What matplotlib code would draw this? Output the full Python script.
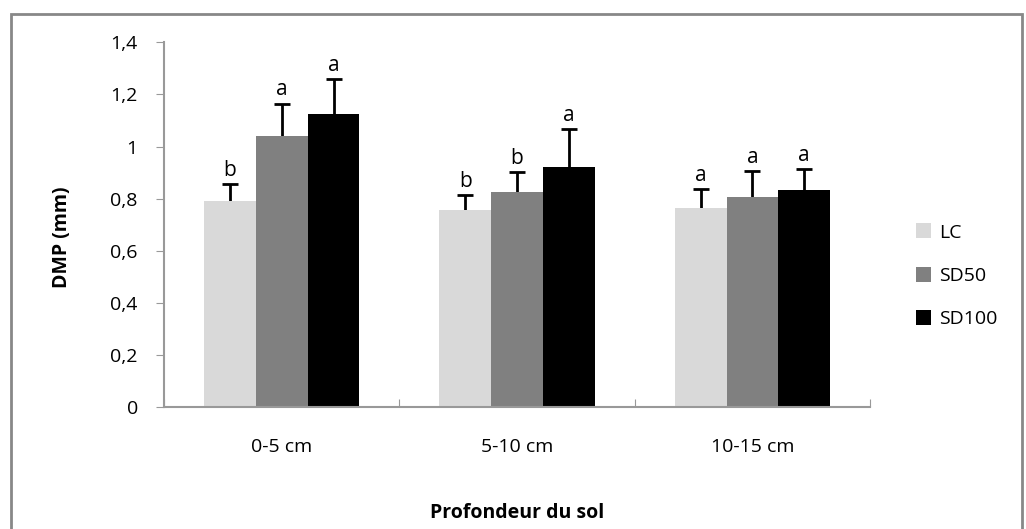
import matplotlib
matplotlib.use('Agg')
import matplotlib.pyplot as plt
import numpy as np
from matplotlib.patches import Rectangle

plt.rcParams['font.family'] = ['Open Sans', 'DejaVu Sans']

# data
depths = ['0-5 cm', '5-10 cm', '10-15 cm']
series = ['LC', 'SD50', 'SD100']
lc = [0.79, 0.755, 0.765]
sd50 = [1.04, 0.825, 0.805]
sd100 = [1.125, 0.92, 0.835]
lc_err = [0.065, 0.06, 0.073]
sd50_err = [0.125, 0.077, 0.10]
sd100_err = [0.135, 0.148, 0.078]
lc_let = ['b', 'b', 'a']
sd50_let = ['a', 'b', 'a']
sd100_let = ['a', 'a', 'a']
yticks = [0, 0.2, 0.4, 0.6, 0.8, 1, 1.2, 1.4]
ytick_labels = ['0', '0,2', '0,4', '0,6', '0,8', '1', '1,2', '1,4']

colors = ['#d9d9d9', '#808080', '#000000']

fig = plt.figure(figsize=(10.26, 5.29), dpi=100)
ax = fig.add_axes([0.16, 0.23, 0.688, 0.69])

x = np.arange(len(depths))
w = 0.22
vals = [lc, sd50, sd100]
errs = [lc_err, sd50_err, sd100_err]
lets = [lc_let, sd50_let, sd100_let]
for i in range(3):
    pos = x + (i - 1) * w
    ax.bar(pos, vals[i], w, color=colors[i], label=series[i], zorder=2)
    # symmetric bars drawn behind, so only the upper half shows (as in Excel)
    ax.errorbar(pos, vals[i], yerr=errs[i], fmt='none',
                ecolor='black', elinewidth=2, capsize=6, capthick=2, zorder=1)
    for p, v, e, l in zip(pos, vals[i], errs[i], lets[i]):
        ax.text(p, v + e + 0.012, l, ha='center', va='bottom', fontsize=15)

ax.set_xlim(-0.5, 2.5)
ax.set_ylim(0, 1.4)
ax.set_yticks(yticks)
ax.set_yticklabels(ytick_labels, fontsize=14)
ax.set_xticks([-0.5, 0.5, 1.5, 2.5])
ax.set_xticklabels([])
ax.set_xticks(x, minor=True)
ax.set_xticklabels(depths, minor=True, fontsize=14)
ax.tick_params(axis='x', which='minor', length=0, pad=22)
ax.tick_params(axis='x', which='major', direction='in', length=6, color='#999999')
ax.tick_params(axis='y', length=6, color='#999999', pad=13)
for s in ['top', 'right']:
    ax.spines[s].set_visible(False)
for s in ['left', 'bottom']:
    ax.spines[s].set_color('#999999')
    ax.spines[s].set_linewidth(1.5)

ax.set_ylabel('DMP (mm)', fontsize=14, fontweight='bold')
ax.yaxis.set_label_coords(-0.13, 0.466)
ax.set_xlabel('Profondeur du sol', fontsize=14, fontweight='bold', labelpad=34)

ax.legend(loc='center left', bbox_to_anchor=(1.04, 0.36), frameon=False,
          fontsize=14, handlelength=0.8, handleheight=0.8, labelspacing=1.3,
          handletextpad=0.4)

fig.patches.append(Rectangle((0.011, -0.05), 0.985, 1.023, transform=fig.transFigure,
                             fill=False, edgecolor='#888888', linewidth=2))

fig.savefig('out.png', dpi=100)
